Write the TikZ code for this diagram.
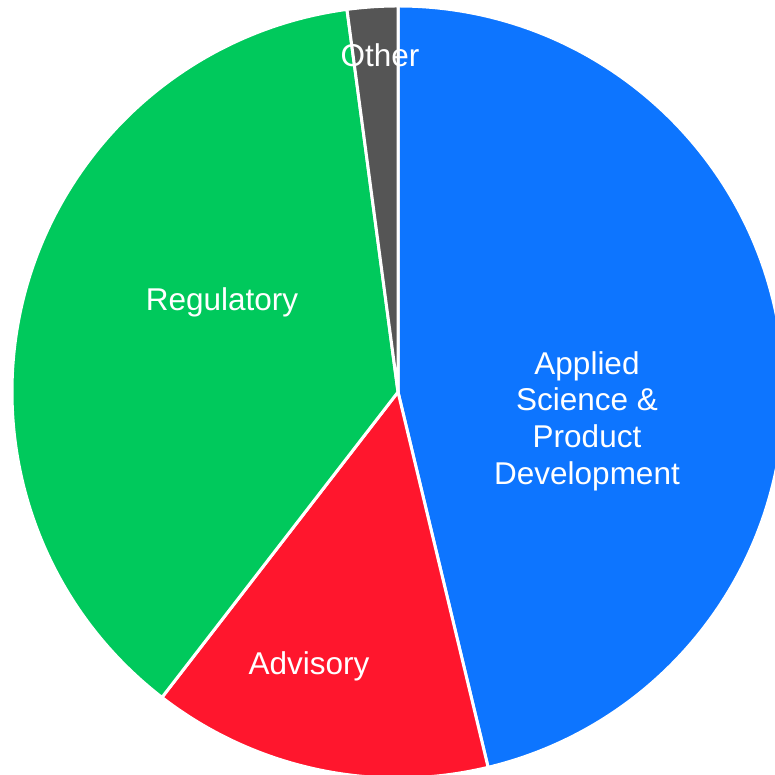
\documentclass[tikz,border=0pt]{standalone}
\usepackage{fontspec}
\setmainfont{Liberation Sans}
\definecolor{cBlue}{HTML}{0D75FF}
\definecolor{cGreen}{HTML}{00C95C}
\definecolor{cRed}{HTML}{FF162D}
\definecolor{cGrey}{HTML}{555555}
\begin{document}
\begin{tikzpicture}[x=1pt,y=1pt,
  slice/.style={draw=white,line width=3pt,line join=round},
  lbl/.style={text=white,align=center,inner sep=0pt,font=\fontsize{31.5}{36.7}\selectfont}]
\useasboundingbox (0,0) rectangle (775,775);
\clip (0,0) rectangle (775,775);
\coordinate (c) at (398,383);
\def\R{386}
% Applied Science & Product Development
\filldraw[slice,fill=cBlue] (c) -- ([shift={(90:\R)}]c) arc[start angle=90,end angle=-76.5,radius=\R] -- cycle;
% Advisory
\filldraw[slice,fill=cRed] (c) -- ([shift={(-76.5:\R)}]c) arc[start angle=-76.5,end angle=-127.7,radius=\R] -- cycle;
% Regulatory
\filldraw[slice,fill=cGreen] (c) -- ([shift={(-127.7:\R)}]c) arc[start angle=-127.7,end angle=-262.4,radius=\R] -- cycle;
% Other
\filldraw[slice,fill=cGrey] (c) -- ([shift={(97.6:\R)}]c) arc[start angle=97.6,end angle=90,radius=\R] -- cycle;
\node[lbl] (applied) at (587,354) {Applied\\Science \&\\Product\\Development};
\node[lbl] (regulatory) at (222,473) {Regulatory};
\node[lbl] (advisory) at (309,109) {Advisory};
\node[lbl] (other) at (380,720) {Other};
\end{tikzpicture}
\end{document}
